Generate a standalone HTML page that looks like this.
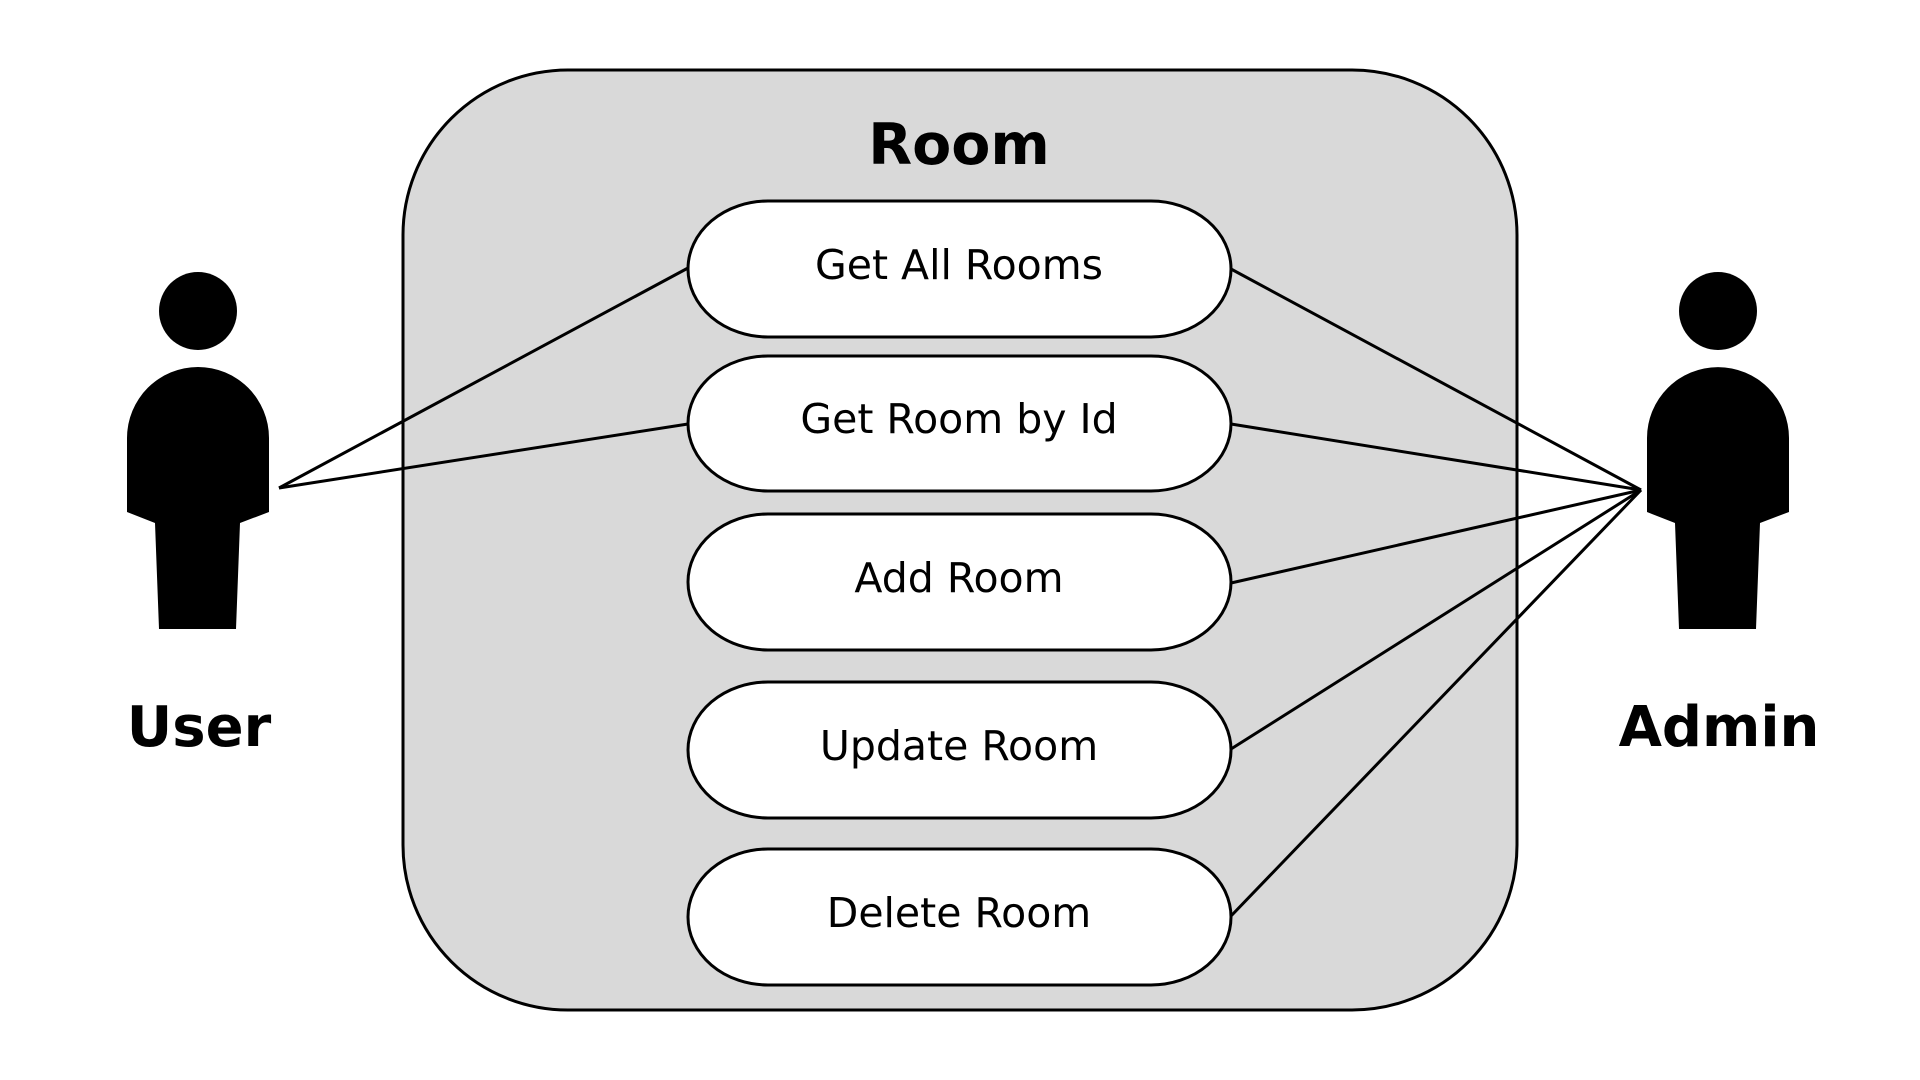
<!DOCTYPE html>
<html><head><meta charset="utf-8"><style>
html,body{margin:0;padding:0;background:#fff;}
svg{display:block}
text{font-family:"DejaVu Sans","Liberation Sans",sans-serif;}
</style></head><body>
<svg width="1920" height="1080" viewBox="0 0 1920 1080">
<rect x="403" y="70" width="1114" height="940" rx="165" ry="165" fill="#d9d9d9" stroke="#000" stroke-width="3"/>
<text x="959" y="164" font-size="57" font-weight="bold" text-anchor="middle">Room</text>
<g fill="#fff" stroke="#000" stroke-width="3">
<rect x="688" y="201" width="543" height="136" rx="80" ry="68"/>
<rect x="688" y="356" width="543" height="135" rx="80" ry="68"/>
<rect x="688" y="514" width="543" height="136" rx="80" ry="68"/>
<rect x="688" y="682" width="543" height="136" rx="80" ry="68"/>
<rect x="688" y="849" width="543" height="136" rx="80" ry="68"/>
</g>
<g font-size="41" text-anchor="middle">
<text x="959" y="279">Get All Rooms</text>
<text x="959" y="433">Get Room by Id</text>
<text x="959" y="592">Add Room</text>
<text x="959" y="760">Update Room</text>
<text x="959" y="927">Delete Room</text>
</g>
<g stroke="#000" stroke-width="3" fill="none">
<line x1="279" y1="488" x2="688" y2="268"/>
<line x1="279" y1="488" x2="688" y2="424"/>
<line x1="1641" y1="490" x2="1231" y2="269"/>
<line x1="1641" y1="490" x2="1231" y2="424"/>
<line x1="1641" y1="490" x2="1231" y2="583"/>
<line x1="1641" y1="490" x2="1231" y2="749"/>
<line x1="1641" y1="490" x2="1231" y2="916"/>
</g>
<g fill="#000">
<circle cx="198" cy="311" r="39"/>
<path d="M127,512 L127,438 A71,71 0 0 1 269,438 L269,512 L240,523 L236,629 L159,629 L155,523 Z"/>
<circle cx="1718" cy="311" r="39"/>
<path d="M1647,512 L1647,438 A71,71 0 0 1 1789,438 L1789,512 L1760,523 L1756,629 L1679,629 L1675,523 Z"/>
</g>
<text x="199" y="746" font-size="56" font-weight="bold" text-anchor="middle">User</text>
<text x="1719" y="746" font-size="56" font-weight="bold" text-anchor="middle">Admin</text>
</svg>
</body></html>
